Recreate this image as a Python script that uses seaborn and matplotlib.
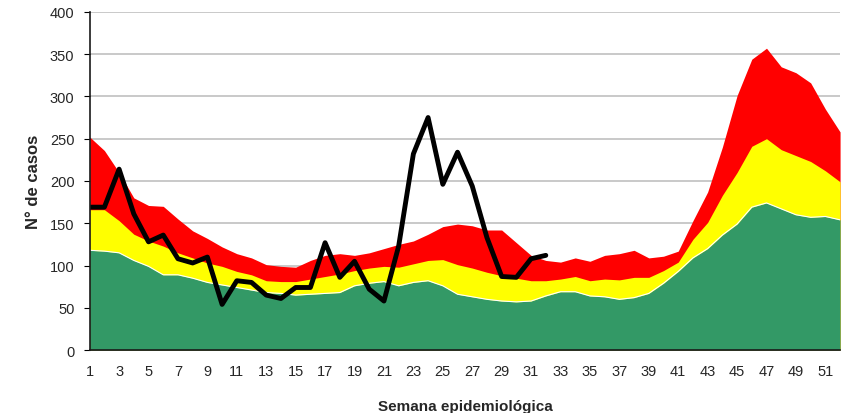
import matplotlib
matplotlib.use('Agg')
import matplotlib.pyplot as plt
import seaborn as sns
import pandas as pd
import numpy as np

# Weeks 1..52 of the endemic channel
semanas = list(range(1, 53))

# lower zone (green) upper boundary
zona_exito = [118, 117, 115, 106, 99, 89, 89, 85, 80, 77, 74, 71, 68, 67, 65, 66,
              67, 68, 76, 79, 81, 76, 80, 82, 76, 66, 63, 60, 58, 57, 58, 64,
              69, 69, 64, 63, 60, 62, 67, 79, 93, 109, 120, 136, 149, 169, 174, 167,
              160, 157, 158, 154]
# safety zone (yellow) upper boundary
zona_seguridad = [166, 166, 153, 137, 129, 123, 115, 109, 103, 99, 93, 89, 82, 81, 81, 84,
                  87, 90, 94, 97, 99, 98, 102, 106, 107, 101, 97, 92, 88, 85, 82, 82,
                  84, 87, 82, 84, 83, 86, 86, 94, 104, 131, 151, 183, 210, 241, 250, 237,
                  230, 223, 212, 199]
# alarm zone (red) upper boundary
zona_alarma = [252, 236, 210, 180, 171, 170, 155, 141, 132, 122, 114, 109, 101, 99, 98, 106,
               112, 114, 112, 115, 120, 125, 129, 137, 146, 149, 147, 142, 142, 127, 112, 106,
               104, 109, 105, 112, 114, 118, 109, 111, 117, 153, 187, 240, 301, 344, 357, 335,
               328, 316, 285, 258]

# observed cases (weeks 1..32)
casos = [169, 169, 214, 161, 128, 136, 108, 103, 110, 54, 82, 80, 65, 61, 74, 74,
         127, 86, 105, 72, 58, 123, 232, 275, 196, 234, 194, 133, 87, 86, 108, 112]

sns.set_style("white")
plt.rcParams['font.family'] = ['Liberation Sans', 'DejaVu Sans']

fig, ax = plt.subplots(figsize=(8.46, 4.14), dpi=100)
fig.subplots_adjust(left=0.106, right=0.993, bottom=0.152, top=0.969)

x = np.array(semanas)
ax.fill_between(x, 0, zona_alarma, color='#FF0000', lw=0, zorder=2)
ax.fill_between(x, 0, zona_seguridad, color='#FFFF00', lw=0, zorder=3)
ax.fill_between(x, 0, zona_exito, color='#339966', lw=0, zorder=4)
ax.plot(x, zona_exito, color='white', lw=0.8, zorder=5)

df = pd.DataFrame({'semana': semanas[:len(casos)], 'casos': casos})
sns.lineplot(data=df, x='semana', y='casos', color='black', lw=3.5, ax=ax, zorder=6)

ax.set_xlim(1, 52)
ax.set_ylim(0, 400)
ax.set_xticks(range(1, 52, 2))
ax.set_yticks(range(0, 401, 50))
ax.yaxis.grid(True, color='#c0c0c0', lw=1.2, zorder=1)
ax.set_axisbelow(True)
for s in ['top', 'right']:
    ax.spines[s].set_visible(False)
for s in ['left', 'bottom']:
    ax.spines[s].set_color('#1a1a1a')
    ax.spines[s].set_linewidth(1.2)
    ax.spines[s].set_zorder(10)
ax.tick_params(axis='both', labelsize=10.5, length=4, color='black', direction='out',
               left=True, bottom=False)
ax.tick_params(axis='y', pad=7)
ax.tick_params(axis='x', pad=6)

ax.set_xlabel('Semana epidemiológica', fontsize=11, fontweight='bold', labelpad=15)
ax.set_ylabel('N° de casos', fontsize=12, fontweight='bold', labelpad=6)

fig.savefig('out.png', dpi=100)
